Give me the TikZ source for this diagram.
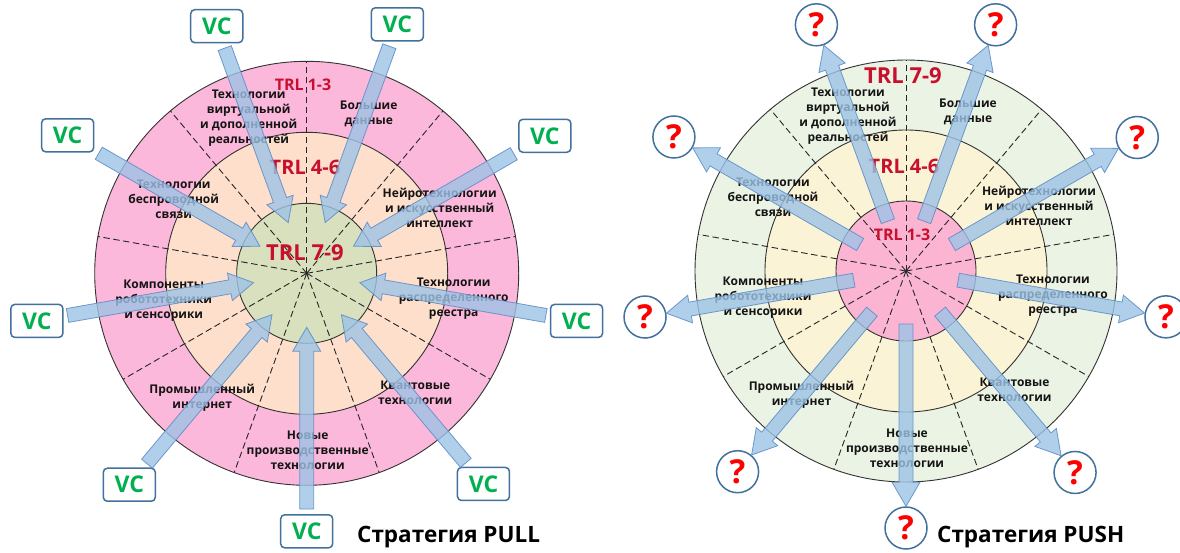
\documentclass[tikz,border=0pt]{standalone}
\usepackage{fontspec}
\setmainfont{Open Sans}
\usetikzlibrary{calc}
\definecolor{Lout}{HTML}{FBB8DA}
\definecolor{Lmid}{HTML}{FDDFCC}
\definecolor{Lin}{HTML}{D8E0BE}
\definecolor{Rout}{HTML}{EBF3E4}
\definecolor{Rmid}{HTML}{FAF3D6}
\definecolor{Rin}{HTML}{FBB5D3}
\definecolor{arrfill}{HTML}{9DC3E6}
\definecolor{arrdraw}{HTML}{5B8BC4}
\definecolor{boxblue}{HTML}{41719C}
\definecolor{vcgreen}{HTML}{00B050}
\definecolor{trlred}{HTML}{C8102E}
\definecolor{qred}{HTML}{FF0000}
\definecolor{lbltext}{HTML}{141414}
\tikzset{
  ring/.style={draw=black!80, line width=0.9pt},
  radial/.style={draw=black!85, line width=0.9pt, dash pattern=on 6.5pt off 3.5pt},
  lbl/.style={align=center, inner sep=0pt, text=lbltext, font=\bfseries\fontsize{12}{15}\selectfont},
  trlA/.style={inner sep=0pt, text=trlred, font=\bfseries\fontsize{16}{16}\selectfont},
  trlB/.style={inner sep=0pt, text=trlred, font=\bfseries\fontsize{20}{20}\selectfont},
  trlC/.style={inner sep=0pt, text=trlred, font=\bfseries\fontsize{22}{22}\selectfont},
  vcbox/.style={draw=boxblue, line width=1.5pt, fill=white, rounded corners=4pt,
    minimum width=52pt, minimum height=33pt, inner sep=0pt, text=vcgreen,
    font=\bfseries\fontsize{23}{23}\selectfont},
  qcirc/.style={circle, draw=boxblue, line width=1.5pt, fill=white, minimum size=42pt,
    inner sep=0pt, text=qred, font=\bfseries\fontsize{33}{33}\selectfont},
  fatarrow/.style={fill=arrfill, fill opacity=0.8, draw=arrdraw, draw opacity=0.85, line width=0.8pt},
  titletext/.style={inner sep=0pt, anchor=west, text=black, font=\bfseries\fontsize{22.5}{22.5}\selectfont}
}
\newcommand\fatarrow[2]{%
  \coordinate (fahead) at ($(#2)!24pt!(#1)$);
  \filldraw[fatarrow]
    ($(#1)!7pt!90:(#2)$) -- ($(fahead)!7pt!90:(#2)$) -- ($(fahead)!14pt!90:(#2)$) -- (#2)
    -- ($(fahead)!14pt!-90:(#2)$) -- ($(fahead)!7pt!-90:(#2)$) -- ($(#1)!7pt!-90:(#2)$) -- cycle;}
\begin{document}
\begin{tikzpicture}[x=1pt,y=1pt]
\useasboundingbox (0,0) rectangle (1180,-552);
\fill[white] (0,0) rectangle (1180,-552);
\coordinate (cL) at (306.7,-273.3);
\coordinate (cR) at (906,-271);

% ---------- left diagram (PULL) ----------
\filldraw[ring, fill=Lout] (cL) circle (212pt);
\filldraw[ring, fill=Lmid] (cL) circle (141pt);
\filldraw[ring, fill=Lin] (cL) circle (70pt);
\foreach \a in {10,50,...,330} \draw[radial] (cL) -- ($(cL)+(\a:212pt)$);

\node[trlA] (Ltrl1) at ($(cL)+(-3.7,189)$) {TRL 1-3};
\node[trlB] (Ltrl2) at ($(cL)+(-1.7,106)$) {TRL 4-6};
\node[trlC] (Ltrl3) at ($(cL)+(-1.7,21)$) {TRL 7-9};

\node[lbl] (L1) at ($(cL)+(-58,155)$) {Технологии\\виртуальной\\и дополненной\\реальностей};
\node[lbl] (L2) at ($(cL)+(62,159)$) {Большие\\данные};
\node[lbl] (L3) at ($(cL)+(-133,74)$) {Технологии\\беспроводной\\связи};
\node[lbl] (L4) at ($(cL)+(133,65)$) {Нейротехнологии\\и искусственный\\интеллект};
\node[lbl] (L5) at ($(cL)+(-143,-27)$) {Компоненты\\робототехники\\и сенсорики};
\node[lbl] (L6) at ($(cL)+(147,-25)$) {Технологии\\распределенного\\реестра};
\node[lbl] (L7) at ($(cL)+(-104.5,-124)$) {Промышленный\\интернет};
\node[lbl] (L8) at ($(cL)+(108.5,-119)$) {Квантовые\\технологии};
\node[lbl] (L9) at ($(cL)+(1,-177)$) {Новые\\производственные\\технологии};

\node[vcbox] (vc1) at ($(cL)+(110:263pt)$) {VC};
\node[vcbox] (vc2) at ($(cL)+(70:265pt)$) {VC};
\node[vcbox] (vc3) at ($(cL)+(30:275pt)$) {VC};
\node[vcbox] (vc4) at ($(cL)+(150:276pt)$) {VC};
\node[vcbox] (vc5) at ($(cL)+(190:274pt)$) {VC};
\node[vcbox] (vc6) at ($(cL)+(-10:274pt)$) {VC};
\node[vcbox] (vc7) at ($(cL)+(-130:276pt)$) {VC};
\node[vcbox] (vc8) at ($(cL)+(-50:275pt)$) {VC};
\node[vcbox] (vc9) at ($(cL)+(-90:258pt)$) {VC};

\coordinate (t1) at ($(cL)+(110:54pt)$);
\coordinate (t2) at ($(cL)+(70:54pt)$);
\coordinate (t3) at ($(cL)+(30:54pt)$);
\coordinate (t4) at ($(cL)+(150:54pt)$);
\coordinate (t5) at ($(cL)+(190:54pt)$);
\coordinate (t6) at ($(cL)+(-10:54pt)$);
\coordinate (t7) at ($(cL)+(-130:54pt)$);
\coordinate (t8) at ($(cL)+(-50:54pt)$);
\coordinate (t9) at ($(cL)+(-90:54pt)$);
\coordinate (s1) at ($(vc1.290)!5pt!(t1)$);
\coordinate (s2) at ($(vc2.250)!5pt!(t2)$);
\coordinate (s3) at ($(vc3.210)!5pt!(t3)$);
\coordinate (s4) at ($(vc4.330)!5pt!(t4)$);
\coordinate (s5) at ($(vc5.10)!4pt!(t5)$);
\coordinate (s6) at ($(vc6.170)!4pt!(t6)$);
\coordinate (s7) at ($(vc7.50)!5pt!(t7)$);
\coordinate (s8) at ($(vc8.130)!5pt!(t8)$);
\coordinate (s9) at ($(vc9.90)!5pt!(t9)$);
\foreach \i in {1,...,9} {\fatarrow{s\i}{t\i}}

\node[titletext] (titleL) at (357,-537) {Стратегия PULL};

% ---------- right diagram (PUSH) ----------
\filldraw[ring, fill=Rout] (cR) circle (211pt);
\filldraw[ring, fill=Rmid] (cR) circle (141pt);
\filldraw[ring, fill=Rin] (cR) circle (70pt);
\foreach \a in {10,50,...,330} \draw[radial] (cR) -- ($(cR)+(\a:211pt)$);

\node[trlC] (Rtrl1) at ($(cR)+(-3,195)$) {TRL 7-9};
\node[trlB] (Rtrl2) at ($(cR)+(-2,105)$) {TRL 4-6};
\node[trlA] (Rtrl3) at ($(cR)+(-4,36)$) {TRL 1-3};

\node[lbl] (R1) at ($(cR)+(-58,155)$) {Технологии\\виртуальной\\и дополненной\\реальностей};
\node[lbl] (R2) at ($(cR)+(62,159)$) {Большие\\данные};
\node[lbl] (R3) at ($(cR)+(-133,74)$) {Технологии\\беспроводной\\связи};
\node[lbl] (R4) at ($(cR)+(133,65)$) {Нейротехнологии\\и искусственный\\интеллект};
\node[lbl] (R5) at ($(cR)+(-143,-27)$) {Компоненты\\робототехники\\и сенсорики};
\node[lbl] (R6) at ($(cR)+(147,-25)$) {Технологии\\распределенного\\реестра};
\node[lbl] (R7) at ($(cR)+(-104.5,-124)$) {Промышленный\\интернет};
\node[lbl] (R8) at ($(cR)+(108.5,-119)$) {Квантовые\\технологии};
\node[lbl] (R9) at ($(cR)+(1,-177)$) {Новые\\производственные\\технологии};

\node[qcirc] (q1) at ($(cR)+(110:262pt)$) {?};
\node[qcirc] (q2) at ($(cR)+(70:262pt)$) {?};
\node[qcirc] (q3) at ($(cR)+(30:267pt)$) {?};
\node[qcirc] (q4) at ($(cR)+(150:268pt)$) {?};
\node[qcirc] (q5) at ($(cR)+(190:265pt)$) {?};
\node[qcirc] (q6) at ($(cR)+(-10:264pt)$) {?};
\node[qcirc] (q7) at ($(cR)+(-130:262pt)$) {?};
\node[qcirc] (q8) at ($(cR)+(-50:263pt)$) {?};
\node[qcirc] (q9) at ($(cR)+(-90:257pt)$) {?};

\coordinate (u1) at ($(cR)+(110:53pt)$);
\coordinate (u2) at ($(cR)+(70:53pt)$);
\coordinate (u3) at ($(cR)+(30:53pt)$);
\coordinate (u4) at ($(cR)+(150:53pt)$);
\coordinate (u5) at ($(cR)+(190:53pt)$);
\coordinate (u6) at ($(cR)+(-10:53pt)$);
\coordinate (u7) at ($(cR)+(-130:53pt)$);
\coordinate (u8) at ($(cR)+(-50:53pt)$);
\coordinate (u9) at ($(cR)+(-90:53pt)$);
\coordinate (e1) at (q1.290);
\coordinate (e2) at (q2.250);
\coordinate (e3) at (q3.210);
\coordinate (e4) at (q4.330);
\coordinate (e5) at (q5.10);
\coordinate (e6) at (q6.170);
\coordinate (e7) at (q7.50);
\coordinate (e8) at (q8.130);
\coordinate (e9) at (q9.90);
\foreach \i in {1,...,9} {\fatarrow{u\i}{e\i}}

\node[titletext] (titleR) at (937,-537) {Стратегия PUSH};
\end{tikzpicture}
\end{document}
